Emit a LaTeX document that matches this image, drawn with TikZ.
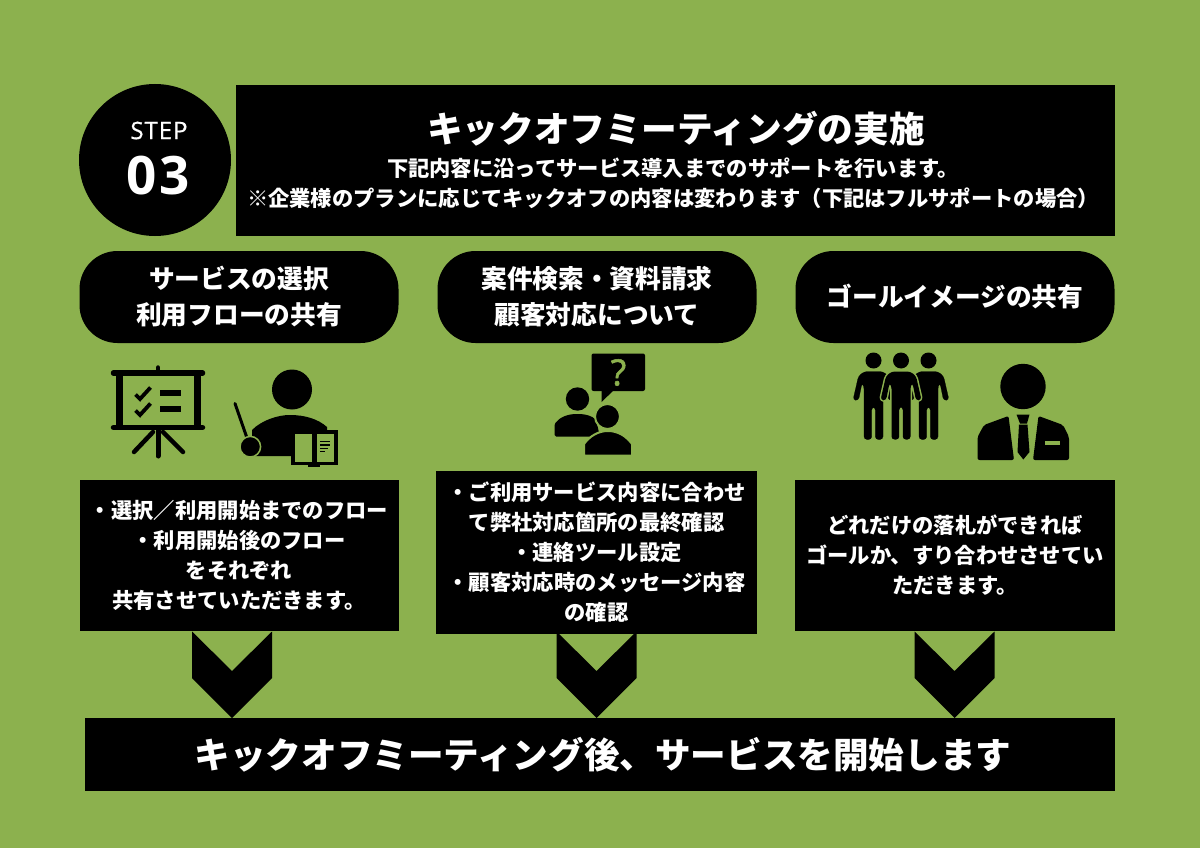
\documentclass[tikz,border=0pt]{standalone}
\usepackage{fontspec}
\usepackage{xcolor}
\setmainfont{Noto Sans CJK JP}
\newfontfamily\stepfont[LetterSpace=4]{Open Sans}
\newfontfamily\steplight[LetterSpace=4, FakeBold=0.7]{Open Sans}
\newfontfamily\askfont[FakeBold=1.5]{Open Sans}
\definecolor{leaf}{HTML}{8CB14E}
\newcommand{\jpsize}[2]{\fontsize{#1}{#2}\selectfont\bfseries}
\newcommand{\manpath}{(-9.5, 439.5) -- (-9.5, 386) -- (-11.5, 383) -- (-15, 400.5) -- (-20.5, 400) -- (-15, 376) -- (-9, 371.5) -- (9, 371.5) -- (15, 376) -- (20.5, 400) -- (15, 400.5) -- (11.5, 383) -- (9.5, 386) -- (9.5, 439.5) -- (1.8, 439.5) -- (1.8, 407) -- (-1.8, 407) -- (-1.8, 439.5) -- cycle}
\tikzset{
    box/.style={fill=black, text=white, inner sep=0pt, align=center, anchor=center},
    pill/.style={box, rounded corners=38pt, minimum width=319pt, minimum height=92pt, font=\jpsize{25.7}{36}},
    note/.style={box, minimum width=319pt, font=\jpsize{21.3}{30}},
    ink/.style={fill=black},
    bar/.style={draw=black, line width=5.5pt},
    stick/.style={draw=black, line width=5pt, line cap=round}
}
\begin{document}
\begin{tikzpicture}[x=1pt, y=-1pt]
    \useasboundingbox[fill=leaf] (0, 0) rectangle (1200, 848);
    % header
    \node[ink, circle, minimum size=152pt, inner sep=0pt] (badge) at (155, 160) {};
    \node[text=white, font=\steplight\fontsize{24}{26}\selectfont] (steplabel) at (159, 130.5) {STEP};
    \node[text=white, font=\stepfont\bfseries\fontsize{53}{56}\selectfont] (stepnum) at (158, 176) {03};
    \node[box, minimum width=879pt, minimum height=151pt] (title) at (675.5, 160.5) {};
    \node[text=white, font=\jpsize{35.7}{40}] (titlemain) at (676, 129) {キックオフミーティングの実施};
    \node[text=white, font=\jpsize{21.3}{30}, align=center] (titlesub) at (673, 183) {下記内容に沿ってサービス導入までのサポートを行います。\\※企業様のプランに応じてキックオフの内容は変わります（下記はフルサポートの場合）};
    % headings
    \node[pill] (pilla) at (239, 297) {サービスの選択\\利用フローの共有};
    \node[pill] (pillb) at (597, 297) {案件検索・資料請求\\顧客対応について};
    \node[pill] (pillc) at (955, 297) {ゴールイメージの共有};
    % notes
    \node[note, minimum height=151pt] (notea) at (239, 555.5) {・選択／利用開始までのフロー\\・利用開始後のフロー\\をそれぞれ\\共有させていただきます。};
    \node[note, minimum width=321pt, minimum height=163pt] (noteb) at (596.5, 552.5) {・ご利用サービス内容に合わせ\\て弊社対応箇所の最終確認\\・連絡ツール設定\\・顧客対応時のメッセージ内容\\の確認};
    \node[note, minimum width=320pt, minimum height=151pt] (notec) at (955, 555.5) {どれだけの落札ができれば\\ゴールか、すり合わせさせてい\\ただきます。};
    % chevrons
    \foreach \x in {232, 596.5, 954.5} {
        \fill (\x-40, 631.5) -- (\x, 671) -- (\x+40, 631.5) -- (\x+40, 678) -- (\x, 718) -- (\x-40, 678) -- cycle;
    }
    \node[box, minimum width=1030pt, minimum height=73pt] (finish) at (600, 754.5) {};
    \node[text=white, font=\jpsize{35.6}{40}] (finishtext) at (603, 754.5) {キックオフミーティング後、サービスを開始します};
    % screen icon
    \draw[bar, line cap=round] (113.5, 373) -- (202.5, 373);
    \draw[bar, line cap=round] (113.5, 427.5) -- (202.5, 427.5);
    \draw[bar, line width=7pt] (119.8, 373) -- (119.8, 428);
    \draw[bar, line width=7pt] (197.5, 373) -- (197.5, 428);
    \draw[stick, line width=4.5pt] (158, 367.5) -- (158, 373);
    \draw[stick] (158, 430) -- (158, 456);
    \draw[stick, line width=4.5pt] (153, 432) -- (134, 452);
    \draw[stick, line width=4.5pt] (163, 432) -- (183, 452);
    \draw[bar] (160, 393) -- (181, 393);
    \draw[bar] (160, 409) -- (181, 409);
    \foreach \y in {0, 16} {
        \draw[line width=3.8pt] (135.5, 394.5+\y) -- (140, 399+\y) -- (150.5, 387.5+\y);
    }
    % teacher icon
    \fill (292, 389.5) circle (20);
    \fill (252, 456) -- (252, 430) .. controls (262, 420) and (278, 415) .. (290, 415) .. controls (305, 415) and (318, 419) .. (327, 427) -- (327, 456) -- cycle;
    \draw[stick, line width=3pt] (235, 403.5) -- (247, 438);
    \fill[draw=leaf, line width=1.5pt] (250.3, 446.7) circle (10.3);
    \fill (290.5, 430) rectangle (337.5, 465);
    \fill (308, 465) rectangle (320, 467);
    \fill[leaf] (295, 434) rectangle (312, 461.5);
    \fill[leaf] (316.5, 434) rectangle (334, 461.5);
    \foreach \y/\w in {441.5/9.5, 445/9.5, 448.5/8, 451.5/5} {
        \draw[line width=1.3pt] (320, \y) -- (320+\w, \y);
    }
    % question icon
    \fill[rounded corners=2pt] (591.5, 353.5) rectangle (645, 391);
    \fill (601.5, 390) -- (601.5, 402) -- (614, 390) -- cycle;
    \node[text=leaf, font=\askfont\fontsize{36}{38}\selectfont, inner sep=0pt] (askmark) at (618.5, 372.5) {?};
    \fill (577.5, 399) circle (11.7);
    \fill[rounded corners=1.5pt] (554.5, 436.5) -- (554.5, 424) .. controls (560, 417) and (568, 414) .. (578, 414) .. controls (585, 414) and (592, 416) .. (596, 420) -- (600, 436.5) -- cycle;
    \fill[draw=leaf, line width=2pt] (607.5, 416.5) circle (12.5);
    \fill[draw=leaf, line width=2pt] (584, 455.5) -- (584, 444) .. controls (590, 436) and (598, 431) .. (608, 431) .. controls (618, 431) and (626, 436) .. (632, 444) -- (632, 455.5) -- cycle;
    % group icon
    \foreach \x/\c/\w in {873.5/black/0.2, 928.5/black/0.2, 901/leaf/3} {
        \draw[\c, line width=\w pt, line join=round, shift={(\x, 0)}, rounded corners=3pt] \manpath;
        \fill[shift={(\x, 0)}, rounded corners=3pt] \manpath;
        \fill[shift={(\x, 0)}] (0, 360.5) circle (8);
    }
    % manager icon
    \fill (1023, 386.5) circle (22.7);
    \fill[rounded corners=2pt] (977.5, 460) -- (977.5, 437) -- (984, 425) -- (1008.5, 416) -- (1014, 460) -- cycle;
    \fill[rounded corners=2pt] (1069, 460) -- (1069, 437) -- (1063, 425) -- (1038.5, 416) -- (1033, 460) -- cycle;
    \fill (1016.5, 414.5) -- (1029.5, 414.5) -- (1027, 423.5) -- (1020, 423.5) -- cycle;
    \fill (1019, 424.5) -- (1027.5, 424.5) -- (1029.5, 452) -- (1023.3, 459.5) -- (1017.5, 452) -- cycle;
    \fill[leaf] (1045, 441) rectangle (1059.5, 444.5);
\end{tikzpicture}
\end{document}
